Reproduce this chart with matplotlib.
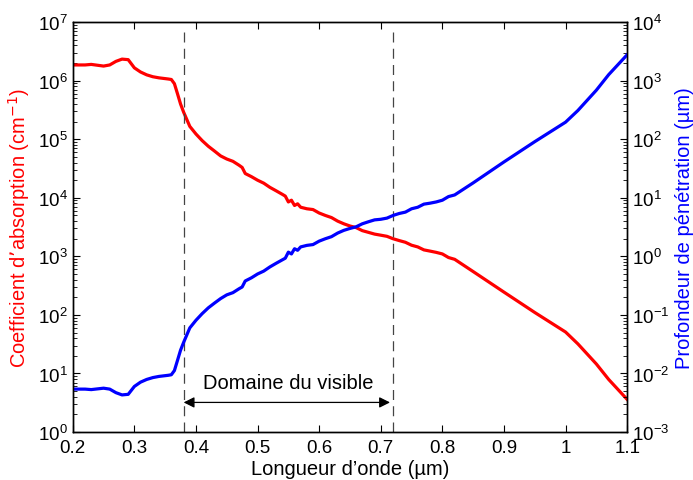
import matplotlib.pyplot as plt
import matplotlib as mpl

mpl.rcParams['font.family'] = ['Liberation Sans', 'DejaVu Sans']

# longueur d'onde (um)
wavelength = [0.20, 0.22, 0.23, 0.25, 0.26, 0.27, 0.28, 0.29, 0.30, 0.31, 0.32, 0.33, 0.34, 0.355,
              0.36, 0.365, 0.37, 0.375, 0.38, 0.39, 0.40, 0.41, 0.42, 0.43, 0.44, 0.45, 0.46, 0.47,
              0.475, 0.48, 0.49, 0.50, 0.51, 0.52, 0.53, 0.54, 0.545, 0.55, 0.555, 0.56, 0.565, 0.57,
              0.58, 0.59, 0.60, 0.61, 0.62, 0.63, 0.64, 0.65, 0.66, 0.67, 0.68, 0.69, 0.70, 0.71,
              0.72, 0.73, 0.74, 0.75, 0.76, 0.77, 0.78, 0.79, 0.80, 0.81, 0.82, 0.85, 0.90, 0.95,
              1.00, 1.02, 1.05, 1.07, 1.10]

# coefficient d'absorption (cm^-1)
absorption = [1.86e6, 1.86e6, 1.9e6, 1.78e6, 1.86e6, 2.14e6, 2.34e6, 2.29e6, 1.66e6, 1.41e6, 1.26e6,
              1.17e6, 1.12e6, 1.07e6, 1.05e6, 8.9e5, 6.0e5, 4.0e5, 2.9e5, 1.66e5, 1.23e5, 9.5e4,
              7.6e4, 6.3e4, 5.2e4, 4.6e4, 4.2e4, 3.6e4, 3.3e4, 2.6e4, 2.3e4, 2.0e4, 1.78e4, 1.51e4,
              1.32e4, 1.15e4, 1.07e4, 8.5e3, 9.1e3, 7.4e3, 7.9e3, 6.9e3, 6.5e3, 6.3e3, 5.5e3, 5.0e3,
              4.6e3, 4.0e3, 3.6e3, 3.3e3, 3.1e3, 2.75e3, 2.57e3, 2.4e3, 2.3e3, 2.2e3, 2.0e3, 1.86e3,
              1.74e3, 1.55e3, 1.45e3, 1.29e3, 1.23e3, 1.17e3, 1.10e3, 955, 890, 550, 245, 110,
              51, 32, 14.5, 7.9, 3.6]

# profondeur de penetration (um)
depth = [5.4e-3, 5.4e-3, 5.3e-3, 5.6e-3, 5.4e-3, 4.7e-3, 4.3e-3, 4.4e-3, 6.0e-3, 7.1e-3, 7.9e-3,
         8.5e-3, 8.9e-3, 9.3e-3, 9.5e-3, 1.12e-2, 1.67e-2, 2.5e-2, 3.4e-2, 6.0e-2, 8.1e-2, 0.105,
         0.132, 0.159, 0.19, 0.22, 0.24, 0.28, 0.30, 0.38, 0.43, 0.50, 0.56, 0.66,
         0.76, 0.87, 0.93, 1.18, 1.10, 1.35, 1.27, 1.45, 1.54, 1.59, 1.82, 2.0,
         2.17, 2.5, 2.78, 3.0, 3.2, 3.6, 3.9, 4.2, 4.3, 4.5, 5.0, 5.4,
         5.7, 6.5, 6.9, 7.8, 8.1, 8.5, 9.1, 10.5, 11.2, 18, 41, 91,
         196, 310, 690, 1270, 2780]

visible = [0.38, 0.72]
xticks = [0.2, 0.3, 0.4, 0.5, 0.6, 0.7, 0.8, 0.9, 1.0, 1.1]
xticklabels = ['0.2', '0.3', '0.4', '0.5', '0.6', '0.7', '0.8', '0.9', '1', '1.1']

fig = plt.figure(figsize=(6.93, 4.81), dpi=100)
ax = fig.add_axes([0.105, 0.0998, 0.8, 0.852])
ax2 = ax.twinx()

ax.plot(wavelength, absorption, color='red', lw=2.3)
ax2.plot(wavelength, depth, color='blue', lw=2.3)

# limites du visible
for v in visible:
    ax.plot([v, v], [1, 7.5e6], color='#444444', lw=0.9, dashes=(8, 5))

ax.annotate('', xy=(0.715, 3.2), xytext=(0.38, 3.2),
            arrowprops=dict(arrowstyle='<|-|>', color='black', lw=0.9, mutation_scale=16,
                            shrinkA=0, shrinkB=0))
ax.text(0.55, 7.1, 'Domaine du visible', ha='center', va='center', fontsize=14.5)

ax.set_xlim(0.2, 1.1)
ax.set_yscale('log')
ax.set_ylim(1, 1e7)
ax2.set_yscale('log')
ax2.set_ylim(1e-3, 1e4)
ax.set_xticks(xticks)
ax.set_xticklabels(xticklabels)

ax.set_xlabel('Longueur d’onde (µm)', fontsize=14.5, labelpad=2)
ax.set_ylabel('Coefficient d’absorption (cm$^{-1}$)', fontsize=14.5, color='red', labelpad=4)
ax2.set_ylabel('Profondeur de pénétration (µm)', fontsize=14.5, color='blue', labelpad=4)

ax.tick_params(which='both', direction='in', top=True, labelsize=13.5)
ax.tick_params(axis='x', pad=5)
ax.tick_params(which='major', length=5)
ax.tick_params(which='minor', length=3)
ax2.tick_params(which='both', direction='in', labelsize=13.5)
ax2.tick_params(which='major', length=5)
ax2.tick_params(which='minor', length=3)
for a in (ax, ax2):
    for s in a.spines.values():
        s.set_linewidth(1.0)

fig.savefig('out.png', dpi=100)
